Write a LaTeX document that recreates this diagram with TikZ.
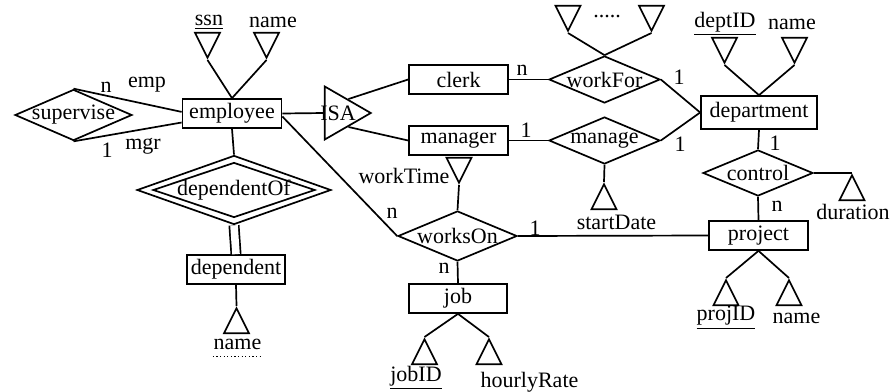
\documentclass[tikz,border=0pt]{standalone}
\usepackage{fontspec}
\setmainfont{Liberation Serif}
\usetikzlibrary{shapes.geometric}

\begin{document}
\begin{tikzpicture}[
    x=0.5pt, y=-0.5pt,
    font=\fontsize{11}{13}\selectfont,
    line width=0.85pt,
    entity/.style={draw, rectangle, inner sep=0pt, minimum width=49.5pt, minimum height=14.5pt},
    rel/.style={draw, diamond, inner sep=0pt, minimum width=55.5pt, minimum height=23.5pt},
    attrdown/.style={draw, isosceles triangle, isosceles triangle stretches, shape border rotate=-90, inner sep=0pt, minimum width=12.5pt, minimum height=12.5pt, anchor=apex},
    attrup/.style={attrdown, shape border rotate=90},
    isa/.style={draw, isosceles triangle, isosceles triangle stretches, inner sep=0pt, minimum width=26.5pt, minimum height=23pt, anchor=apex},
    txt/.style={inner sep=0pt}
]
    \useasboundingbox (0,0) rectangle (893,391);

    % entities
    \node[entity] (employee) at (232,113.5) {employee};
    \node[entity] (clerk) at (458.5,79.5) {clerk};
    \node[entity] (manager) at (458.5,140.5) {manager};
    \node[entity, minimum width=58pt, minimum height=16.5pt] (department) at (759,112.5) {department};
    \node[entity] (project) at (758.5,235.5) {project};
    \node[entity, minimum width=49pt] (job) at (458,298.5) {job};
    \node[entity, minimum width=49pt] (dependent) at (236,269.5) {dependent};

    % relationships
    \node[rel, minimum width=58.5pt, minimum height=25.5pt, label=center:supervise] (supervise) at (73.5,115) {};
    \node[rel, label=center:workFor] (workFor) at (604.5,79.5) {};
    \node[rel, label=center:manage] (manage) at (604.5,140.5) {};
    \node[rel, minimum width=55pt, minimum height=23pt, label=center:control] (control) at (758,173) {};
    \node[rel, minimum width=59.5pt, minimum height=25pt, label=center:worksOn] (worksOn) at (457.5,236) {};
    \node[rel, minimum width=97pt, minimum height=34.5pt] (dependentOf) at (234,190) {};
    \node[rel, minimum width=81pt, minimum height=27.5pt, label=center:dependentOf] (dependentOfIn) at (234,190) {};

    % isa
    \node[isa] (isa) at (373,113) {};
    \node[txt] (isaText) at (338,113) {ISA};

    % attributes
    \node[attrdown] (ssnT) at (207.5,60) {};
    \node[attrdown] (enameT) at (266.5,60) {};
    \node[attrdown] (wf1T) at (568,33) {};
    \node[attrdown] (wf2T) at (651.5,33) {};
    \node[attrdown] (deptIDT) at (724.5,65) {};
    \node[attrdown] (dnameT) at (794.5,65) {};
    \node[attrdown] (workTimeT) at (459,185) {};
    \node[attrup] (startDateT) at (604,182) {};
    \node[attrup] (durationT) at (852,173) {};
    \node[attrup] (projIDT) at (726,278) {};
    \node[attrup] (pnameT) at (789,278) {};
    \node[attrup] (jobIDT) at (424.5,337) {};
    \node[attrup] (rateT) at (489,337) {};
    \node[attrup] (depnameT) at (236.5,306) {};

    \node[txt] (ssn) at (209,22) {\underline{ssn}};
    \node[txt] (ename) at (273,22) {name};
    \node[txt] (wfDots) at (607,17) {.....};
    \node[txt] (deptID) at (725,24) {\underline{deptID}};
    \node[txt] (dname) at (792,24) {name};
    \node[txt] (workTime) at (404,176) {workTime};
    \node[txt] (startDate) at (616.5,222) {startDate};
    \node[txt] (duration) at (853,212) {duration};
    \node[txt] (projID) at (726,318) {\underline{projID}};
    \node[txt] (pname) at (796.5,318) {name};
    \node[txt] (jobID) at (416,378) {\underline{jobID}};
    \node[txt] (hourlyRate) at (529.5,382) {hourlyRate};
    \node[txt] (depname) at (237.5,344) {name};
    \draw[line width=0.6pt, dash pattern=on 0.6pt off 1.2pt] ([yshift=-3pt]depname.south west) -- ([yshift=-3pt]depname.south east);

    % cardinalities and roles
    \node[txt] (supN) at (106,87) {n};
    \node[txt] (supEmp) at (147,85) {emp};
    \node[txt] (sup1) at (107,150) {1};
    \node[txt] (supMgr) at (143,146) {mgr};
    \node[txt] (wfN) at (522,70) {n};
    \node[txt] (mg1) at (526,130) {1};
    \node[txt] (wf1) at (679,77) {1};
    \node[txt] (mgD1) at (680,144) {1};
    \node[txt] (ctl1) at (775,143) {1};
    \node[txt] (ctlN) at (777,206) {n};
    \node[txt] (woN) at (392,213) {n};
    \node[txt] (woJobN) at (444,268) {n};
    \node[txt] (wo1) at (535,228) {1};

    % connectors
    \draw (employee.north) -- (ssnT.apex);
    \draw (employee.north) -- (enameT.apex);
    \draw (supervise.north) -- ([yshift=0.8pt]employee.west);
    \draw (supervise.south) -- ([yshift=-4.5pt]employee.west);
    \draw (employee.east) -- (isa.lower side);
    \draw (isa.left side) -- (clerk.west);
    \draw (isa.right side) -- (manager.west);
    \draw (clerk.east) -- (workFor.west);
    \draw (manager.east) -- (manage.west);
    \draw (workFor.east) -- (department.west);
    \draw (manage.east) -- (department.west);
    \draw (workFor.north) -- (wf1T.apex);
    \draw (workFor.north) -- (wf2T.apex);
    \draw (department.north) -- (deptIDT.apex);
    \draw (department.north) -- (dnameT.apex);
    \draw (department.south) -- (control.north);
    \draw (control.south) -- (project.north);
    \draw (control.east) -- (durationT.apex);
    \draw (project.south) -- (projIDT.apex);
    \draw (project.south) -- (pnameT.apex);
    \draw (manage.south) -- (startDateT.apex);
    \draw ([yshift=-1.5pt]employee.east) -- (worksOn.west);
    \draw (worksOn.north) -- (workTimeT.apex);
    \draw (worksOn.east) -- (project.west);
    \draw (worksOn.south) -- (job.north);
    \draw (job.south) -- (jobIDT.apex);
    \draw (job.south) -- (rateT.apex);
    \draw (employee.south) -- (dependentOf.north);
    \draw[double, double distance=3.8pt] (dependentOf.south) -- (dependent.north);
    \draw (dependent.south) -- (depnameT.apex);
\end{tikzpicture}
\end{document}
